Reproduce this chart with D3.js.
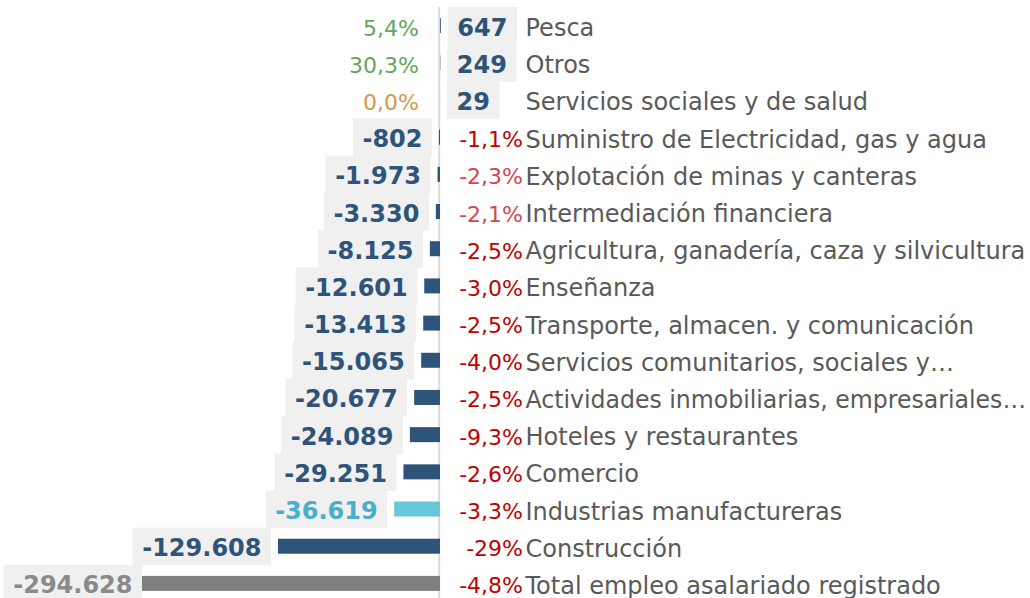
<!DOCTYPE html>
<html>
<head>
<meta charset="utf-8">
<script src="https://cdn.jsdelivr.net/npm/d3@7"></script>
<style>
  html, body { margin: 0; padding: 0; background: #ffffff; }
  svg { display: block; }
  text { font-family: "DejaVu Sans", Verdana, sans-serif; }
</style>
</head>
<body>
<svg id="chart" width="1030" height="598"></svg>
<script>
// ---- data ----
const categories = [
  "Pesca",
  "Otros",
  "Servicios sociales y de salud",
  "Suministro de Electricidad, gas y agua",
  "Explotación de minas y canteras",
  "Intermediación financiera",
  "Agricultura, ganadería, caza y silvicultura",
  "Enseñanza",
  "Transporte, almacen. y comunicación",
  "Servicios comunitarios, sociales y…",
  "Actividades inmobiliarias, empresariales…",
  "Hoteles y restaurantes",
  "Comercio",
  "Industrias manufactureras",
  "Construcción",
  "Total empleo asalariado registrado"
];
const values = [647, 249, 29, -802, -1973, -3330, -8125, -12601, -13413, -15065, -20677, -24089, -29251, -36619, -129608, -294628];
const pctValues = [5.4, 30.3, 0.0, -1.1, -2.3, -2.1, -2.5, -3.0, -2.5, -4.0, -2.5, -9.3, -2.6, -3.3, -29, -4.8];
const pctLabels = ["5,4%", "30,3%", "0,0%", "-1,1%", "-2,3%", "-2,1%", "-2,5%", "-3,0%", "-2,5%", "-4,0%", "-2,5%", "-9,3%", "-2,6%", "-3,3%", "-29%", "-4,8%"];
const axisMin = -238400; // visible left end of the value axis (total bar is cut there)

// ---- styles ----
const barColor = { default: "#2e5479", "Industrias manufactureras": "#68c6da", "Total empleo asalariado registrado": "#7f7f7f" };
const valColor = { default: "#2e5479", "Industrias manufactureras": "#4aafca", "Total empleo asalariado registrado": "#8a8a8a" };
const lightRed = new Set(["Explotación de minas y canteras", "Intermediación financiera"]);
function pctColor(i) {
  const v = pctValues[i];
  if (v > 0) return "#62a65b";
  if (v === 0) return "#d7974c";
  return lightRed.has(categories[i]) ? "#d6454f" : "#c00000";
}

const es = d3.formatLocale({ decimal: ",", thousands: ".", grouping: [3], currency: ["", "€"], minus: "-" });
const fmt = es.format(",d");

const svg = d3.select("#chart");

const x = d3.scaleLinear().domain([axisMin, 0]).range([142, 440]);
const y = d3.scaleBand().domain(categories).range([7, 602]).paddingInner(0).paddingOuter(0);
const step = y.step();
const barH = 15;
const gap = 7, pad = 9.5;
const zeroX = x(0);
const catX = 525.5, catMaxW = 1026 - 525.5;

const rows = categories.map((c, i) => ({ c, i, v: values[i] }));

// axis line
svg.append("line")
  .attr("x1", zeroX - 0.8).attr("x2", zeroX - 0.8)
  .attr("y1", y.range()[0]).attr("y2", 598)
  .attr("stroke", "#d9d9d9").attr("stroke-width", 2);

// bars
svg.append("g").selectAll("rect").data(rows).join("rect")
  .attr("x", d => Math.min(x(Math.max(d.v, axisMin)), zeroX))
  .attr("width", d => Math.abs(x(Math.max(d.v, axisMin)) - zeroX))
  .attr("y", d => y(d.c) + step / 2 - barH / 2)
  .attr("height", barH)
  .attr("fill", d => barColor[d.c] || barColor.default);

// value labels with boxes
const lblG = svg.append("g");
rows.forEach(d => {
  const g = lblG.append("g");
  const rect = g.append("rect").attr("fill", "#f0f0f0");
  const t = g.append("text")
    .attr("font-size", 24).attr("font-weight", "bold")
    .attr("fill", valColor[d.c] || valColor.default)
    .attr("y", y(d.c) + step / 2 + 10)
    .text(fmt(d.v));
  const w = t.node().getComputedTextLength();
  const clipped = d.v < axisMin;
  let tx;
  if (d.v >= 0) {
    tx = x(d.v) + gap + pad;
    t.attr("x", tx).attr("text-anchor", "start");
  } else {
    const end = x(Math.max(d.v, axisMin)) - (clipped ? 0 : gap) - pad;
    tx = end - w;
    t.attr("x", end).attr("text-anchor", "end");
  }
  rect.attr("x", tx - pad).attr("width", w + 2 * pad)
    .attr("y", y(d.c)).attr("height", step + 0.5);
});

// percentage labels
svg.append("g").selectAll("text").data(rows).join("text")
  .attr("font-size", 22)
  .attr("text-anchor", "end")
  .attr("x", d => d.v >= 0 ? zeroX - 21 : 523)
  .attr("y", d => y(d.c) + step / 2 + 10)
  .attr("fill", d => pctColor(d.i))
  .text(d => pctLabels[d.i]);

// category labels
svg.append("g").selectAll("text").data(rows).join("text")
  .attr("font-size", 24)
  .attr("x", catX)
  .attr("y", d => y(d.c) + step / 2 + 10.5)
  .attr("fill", "#595959")
  .text(d => d.c)
  .each(function () {
    const w = this.getComputedTextLength();
    if (w > catMaxW) {
      d3.select(this).attr("textLength", catMaxW).attr("lengthAdjust", "spacingAndGlyphs");
    }
  });
</script>
</body>
</html>
